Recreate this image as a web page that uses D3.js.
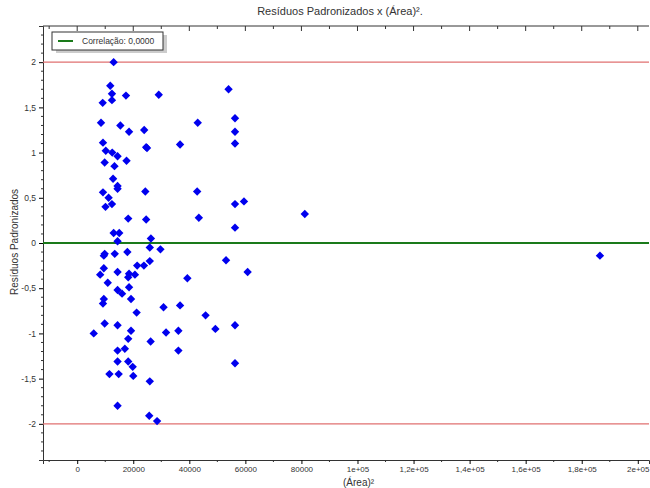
<!DOCTYPE html><html><head><meta charset="utf-8">
<script src="https://cdn.jsdelivr.net/npm/d3@7"></script>
<style>body{margin:0;background:#fff}text{font-family:"Liberation Sans",Arial,sans-serif}</style></head><body>
<svg id="c" width="650" height="488"></svg>
<script>
const xs=[13.0,11.8,12.4,12.4,9.1,17.4,29.1,54.0,8.5,15.4,18.5,23.9,43.0,56.3,56.3,56.3,9.2,10.2,12.5,14.4,17.6,9.8,13.3,24.9,24.6,36.7,12.8,14.4,14.4,9.2,11.2,10.1,12.4,24.3,42.8,56.3,59.5,43.4,18.2,24.6,56.3,81.2,13.0,15.0,14.4,26.3,
25.9,29.7,9.8,9.5,13.4,17.9,25.9,21.4,23.8,53.1,9.5,8.2,14.4,18.5,18.2,20.6,60.8,39.3,10.9,18.5,14.4,16.0,19.2,9.5,9.2,30.8,36.7,21.2,45.8,9.8,14.4,56.3,49.3,36.1,19.2,31.7,5.9,18.2,26.2,17.0,14.4,36.1,14.4,18.2,56.3,19.8,11.5,14.8,20.0,25.9,14.4,25.7,28.5,186.5];
const ys=[2.0,1.74,1.65,1.58,1.55,1.63,1.64,1.70,1.33,1.30,1.23,1.25,1.33,1.38,1.23,1.10,1.11,1.02,1.00,0.96,0.91,0.89,0.85,1.05,1.06,1.09,0.71,0.63,0.60,0.56,0.50,0.40,0.43,0.57,0.57,0.43,0.46,0.28,0.27,0.26,0.17,0.32,0.11,0.11,0.02,0.05,
-0.05,-0.07,-0.12,-0.14,-0.12,-0.10,-0.20,-0.25,-0.25,-0.19,-0.28,-0.35,-0.32,-0.34,-0.38,-0.35,-0.32,-0.39,-0.44,-0.49,-0.52,-0.56,-0.62,-0.62,-0.67,-0.71,-0.69,-0.77,-0.80,-0.89,-0.91,-0.91,-0.95,-0.97,-0.97,-0.99,-1.00,-1.06,-1.09,-1.17,-1.19,-1.19,-1.31,-1.31,-1.33,-1.37,-1.45,-1.45,-1.47,-1.53,-1.80,-1.91,-1.97,-0.14];
const xTicks=[0,20000,40000,60000,80000,100000,120000,140000,160000,180000,200000];
const xTickLabels=["0","20000","40000","60000","80000","1e+05","1,2e+05","1,4e+05","1,6e+05","1,8e+05","2e+05"];
const yTicks=[-2,-1.5,-1,-0.5,0,0.5,1,1.5,2];
const limits=[2,-2];
const svg=d3.select("#c");
const L=43,R=649,T=26,B=460;
const x=d3.scaleLinear().domain([-12200,204000]).range([L,R]);
const y=d3.scaleLinear().domain([-2.4,2.4]).range([B,T]);
const fmt=v=>String(v).replace(".",",");
svg.append("text").attr("x",340).attr("y",15).attr("text-anchor","middle").attr("font-size",11).attr("fill","#333").text("Resíduos Padronizados x (Área)².");
const g=svg.append("g");
const xa=d3.axisBottom(x).tickValues(xTicks).tickSize(4).tickPadding(2).tickFormat((d,i)=>xTickLabels[i]);
const xb=g.append("g").attr("transform",`translate(0,${B})`).call(xa);
xb.selectAll("text").attr("font-size",8).attr("fill","#333");
const xm=d3.range(-10000,205000,10000).filter(v=>v%20000!==0);
g.append("g").selectAll("line").data(xm).join("line").attr("x1",d=>x(d)).attr("x2",d=>x(d)).attr("y1",B).attr("y2",B+2).attr("stroke","#333");
g.append("g").selectAll("line").data(xTicks).join("line").attr("x1",d=>x(d)).attr("x2",d=>x(d)).attr("y1",T).attr("y2",T+5).attr("stroke","#333");
g.append("g").selectAll("line").data(xm).join("line").attr("x1",d=>x(d)).attr("x2",d=>x(d)).attr("y1",T).attr("y2",T+3).attr("stroke","#333");
const ya=d3.axisLeft(y).tickValues(yTicks).tickSize(4).tickFormat(fmt);
const yl=g.append("g").attr("transform",`translate(${L},0)`).call(ya);
yl.selectAll("text").attr("font-size",8.5).attr("fill","#333");
const ym=d3.range(-2.3,2.4,0.1).map(v=>Math.round(v*10)/10).filter(v=>Math.abs(v*2-Math.round(v*2))>0.01);
g.append("g").selectAll("line").data(ym).join("line").attr("x1",L-2).attr("x2",L).attr("y1",d=>y(d)).attr("y2",d=>y(d)).attr("stroke","#333");
svg.selectAll(".domain").attr("stroke","#333");
g.append("line").attr("x1",L).attr("x2",R).attr("y1",T).attr("y2",T).attr("stroke","#333");
svg.selectAll(".lim").data(limits).join("line").attr("x1",L).attr("x2",R).attr("y1",d=>y(d)).attr("y2",d=>y(d)).attr("stroke","#e07070").attr("stroke-width",1.2);
svg.append("line").attr("x1",L).attr("x2",R).attr("y1",y(0)).attr("y2",y(0)).attr("stroke","#1a7a1a").attr("stroke-width",2);
svg.append("g").selectAll("path").data(xs.map((v,i)=>[v*1000,ys[i]])).join("path")
 .attr("d","M0,-4.2L4.2,0L0,4.2L-4.2,0Z").attr("transform",d=>`translate(${x(d[0])},${y(d[1])})`).attr("fill","#0000ee");
svg.append("rect").attr("x",56).attr("y",35).attr("width",111).attr("height",18).attr("fill","#ccc");
svg.append("rect").attr("x",52).attr("y",32).attr("width",111).attr("height",18).attr("fill","#fff").attr("stroke","#333");
svg.append("line").attr("x1",58).attr("x2",73).attr("y1",41).attr("y2",41).attr("stroke","#1a7a1a").attr("stroke-width",2);
svg.append("text").attr("x",82).attr("y",44).attr("font-size",8.5).attr("fill","#333").text("Correlação: 0,0000");
svg.append("text").attr("x",343).attr("y",486).attr("font-size",10).attr("fill","#333").text("(Área)²");
svg.append("text").attr("transform","translate(18,242) rotate(-90)").attr("text-anchor","middle").attr("font-size",10).attr("fill","#333").text("Resíduos Padronizados");
</script></body></html>
